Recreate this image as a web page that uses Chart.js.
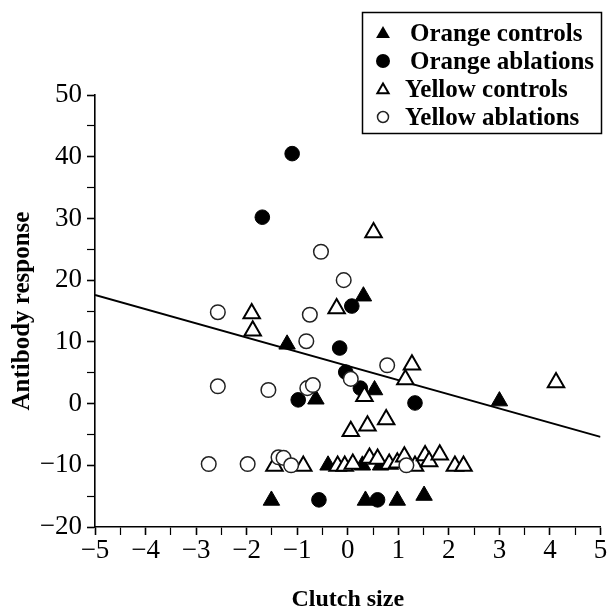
<!DOCTYPE html>
<html>
<head>
<meta charset="utf-8">
<script src="https://cdn.jsdelivr.net/npm/chart.js@4.4.1/dist/chart.umd.min.js"></script>
<style>
  html, body { margin: 0; padding: 0; background: #fff; }
  #wrap { width: 612px; height: 612px; }
</style>
</head>
<body>
<div id="wrap"><canvas id="c" width="612" height="612"></canvas></div>
<script>
// ---- data ----
const seriesNames = ["Orange controls", "Orange ablations", "Yellow controls", "Yellow ablations"];

const orangeControlsX = [-1.20, -0.63, 0.31, 0.53, 3.00, -1.51, 0.35, 0.98, 1.51, -0.39, 0.29, 0.65];
const orangeControlsY = [9.6, 0.7, 17.4, 2.2, 0.4, -15.7, -15.7, -15.7, -14.9, -10.0, -10.0, -10.0];

const orangeAblationsX = [-1.10, -1.69, 0.08, -0.16, -0.04, 0.25, -0.98, 1.33, -0.57, 0.59];
const orangeAblationsY = [40.5, 30.2, 15.8, 9.0, 5.1, 2.5, 0.6, 0.1, -15.6, -15.6];

const yellowControlsX = [0.51, -0.22, -1.90, -1.88, 1.27, 1.14, 0.33, 4.12, 0.06, 0.39, 0.76,
  -1.45, -0.88, -0.20, -0.06, 0.10, 0.43, 0.59, 0.82, 0.98, 1.12, 1.33, 1.53, 1.61, 1.82, 2.12, 2.29];
const yellowControlsY = [27.7, 15.4, 14.6, 11.8, 6.3, 3.9, 1.2, 3.4, -4.5, -3.6, -2.6,
  -10.1, -10.1, -10.1, -10.1, -9.8, -8.8, -9.0, -9.8, -9.6, -8.6, -10.1, -8.4, -9.4, -8.3, -10.1, -10.1];

const yellowAblationsX = [-0.53, -0.08, -2.57, -0.75, -0.82, 0.78, 0.06, -2.57, -1.57, -0.80, -0.69,
  -2.75, -1.98, -1.37, -1.27, -1.12, 1.16];
const yellowAblationsY = [24.6, 20.0, 14.8, 14.4, 10.1, 6.2, 4.0, 2.8, 2.2, 2.5, 3.0,
  -9.8, -9.8, -8.7, -8.8, -10.0, -10.0];

const fitLineX = [-5, 5];
const fitLineY = [17.6, -5.4];

const xTickMin = -5, xTickMax = 5, xMinorStep = 0.5;
const yTickMin = -20, yTickMax = 50, yMinorStep = 5, yMajorStep = 10;
const xTitle = "Clutch size";
const yTitle = "Antibody response";

// ---- helpers ----
const pts = (xs, ys) => xs.map((x, i) => ({ x: x, y: ys[i] }));
const SERIF = "'Liberation Serif', 'Times New Roman', serif";
const minus = v => (v < 0 ? "\u2212" + Math.abs(v) : String(v));

const styles = [
  { pointStyle: "triangle", filled: true },
  { pointStyle: "circle", filled: true },
  { pointStyle: "triangle", filled: false },
  { pointStyle: "circle", filled: false }
];

function drawMarker(ctx, style, filled, x, y, r) {
  ctx.save();
  ctx.beginPath();
  if (style === "circle") {
    ctx.arc(x, y, r, 0, Math.PI * 2);
  } else {
    for (let k = 0; k < 3; k++) {
      const a = k * 2 * Math.PI / 3;
      const px = x + Math.sin(a) * r, py = y - Math.cos(a) * r;
      if (k === 0) ctx.moveTo(px, py); else ctx.lineTo(px, py);
    }
    ctx.closePath();
  }
  if (filled) {
    ctx.fillStyle = "#000"; ctx.fill();
  } else {
    ctx.fillStyle = "#fff"; ctx.fill();
    ctx.lineWidth = style === "circle" ? 1.5 : 2;
    ctx.strokeStyle = style === "circle" ? "#222" : "#000";
    ctx.stroke();
  }
  ctx.restore();
}

const legendPlugin = {
  id: "boxLegend",
  afterDraw(chart) {
    const ctx = chart.ctx;
    const box = { l: 362.5, t: 12.5, r: 601.5, b: 133.5 };
    ctx.save();
    ctx.fillStyle = "#fff";
    ctx.fillRect(box.l, box.t, box.r - box.l, box.b - box.t);
    ctx.lineWidth = 1.5;
    ctx.strokeStyle = "#000";
    ctx.strokeRect(box.l, box.t, box.r - box.l, box.b - box.t);
    const sizes = [8, 7, 6.5, 5.5];
    const textX = [410, 410, 405, 405];
    ctx.font = "bold 25px " + SERIF;
    ctx.fillStyle = "#000";
    ctx.textBaseline = "alphabetic";
    seriesNames.forEach((name, i) => {
      const base = 41 + i * 28;
      const cy = base - 8 + (styles[i].pointStyle === "triangle" ? 1 : 0);
      drawMarker(ctx, styles[i].pointStyle, styles[i].filled, 383, cy, sizes[i]);
      ctx.fillStyle = "#000";
      ctx.fillText(name, textX[i], base);
    });
    ctx.restore();
  }
};

function scatterSet(label, data, idx, order) {
  const s = styles[idx];
  const isTri = s.pointStyle === "triangle";
  return {
    type: "scatter",
    label: label,
    data: data,
    order: order,
    pointStyle: s.pointStyle,
    pointRadius: isTri ? 9.5 : 7.3,
    pointHoverRadius: isTri ? 9.5 : 7.3,
    backgroundColor: s.filled ? "#000" : "#fff",
    borderColor: s.filled ? "#000" : (isTri ? "#000" : "#222"),
    borderWidth: s.filled ? 1 : (isTri ? 2 : 1.5),
    showLine: false
  };
}

new Chart(document.getElementById("c"), {
  type: "scatter",
  data: {
    datasets: [
      scatterSet(seriesNames[3], pts(yellowAblationsX, yellowAblationsY), 3, 0),
      scatterSet(seriesNames[2], pts(yellowControlsX, yellowControlsY), 2, 1),
      scatterSet(seriesNames[1], pts(orangeAblationsX, orangeAblationsY), 1, 2),
      scatterSet(seriesNames[0], pts(orangeControlsX, orangeControlsY), 0, 3),
      {
        type: "line",
        label: "fit",
        data: pts(fitLineX, fitLineY),
        order: 10,
        borderColor: "#000",
        borderWidth: 2,
        pointRadius: 0,
        fill: false,
        tension: 0
      }
    ]
  },
  options: {
    responsive: false,
    animation: false,
    devicePixelRatio: 1,
    layout: { padding: { left: 0, top: 95, right: 7, bottom: 0 } },
    plugins: { legend: { display: false }, tooltip: { enabled: false } },
    scales: {
      x: {
        type: "linear",
        min: xTickMin, max: xTickMax,
        afterFit(s) { s.height = 85; },
        afterBuildTicks(s) {
          const t = [];
          for (let v = xTickMin; v <= xTickMax + 1e-9; v += xMinorStep) t.push({ value: Math.round(v * 10) / 10 });
          s.ticks = t;
        },
        ticks: {
          autoSkip: false,
          maxRotation: 0,
          padding: 0,
          color: "#000",
          font: { family: SERIF, size: 27 },
          callback: v => (Number.isInteger(v) ? minus(v) : "")
        },
        grid: {
          display: true,
          drawOnChartArea: false,
          drawTicks: true,
          tickLength: 8,
          tickColor: "#000",
          tickWidth: c => (c.tick && Number.isInteger(c.tick.value) ? 1.6 : 1.2)
        },
        border: { display: true, color: "#000", width: 1.6 },
        title: {
          display: true, text: xTitle, color: "#000",
          font: { family: SERIF, size: 24, weight: "bold", lineHeight: 1 },
          padding: { top: 0, bottom: 0 }
        }
      },
      y: {
        type: "linear",
        min: yTickMin, max: yTickMax,
        afterFit(s) { s.width = 95; },
        afterBuildTicks(s) {
          const t = [];
          for (let v = yTickMin; v <= yTickMax; v += yMinorStep) t.push({ value: v });
          s.ticks = t;
        },
        ticks: {
          autoSkip: false,
          padding: 5,
          color: "#000",
          font: { family: SERIF, size: 27 },
          callback: v => (v % yMajorStep === 0 ? minus(v) : "")
        },
        grid: {
          display: true,
          drawOnChartArea: false,
          drawTicks: true,
          tickLength: 8,
          tickColor: "#000",
          tickWidth: c => (c.tick && c.tick.value % yMajorStep === 0 ? 1.6 : 1.2)
        },
        border: { display: true, color: "#000", width: 1.6 },
        title: {
          display: true, text: yTitle, color: "#000",
          font: { family: SERIF, size: 25, weight: "bold", lineHeight: 1 },
          padding: { top: 10, bottom: 0 }
        }
      }
    }
  },
  plugins: [legendPlugin]
});
</script>
</body>
</html>
